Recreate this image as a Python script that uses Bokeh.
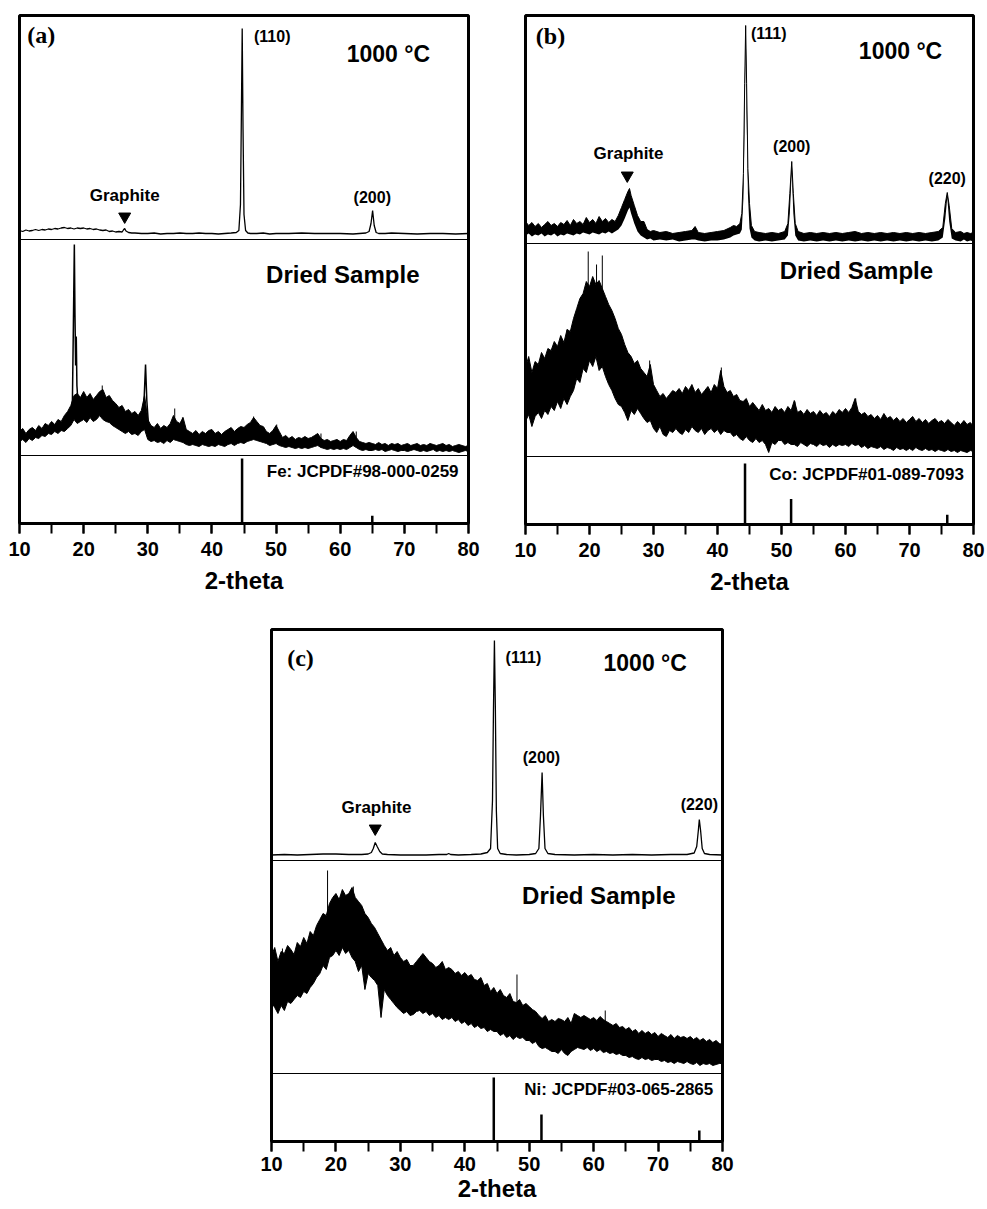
from bokeh.plotting import figure
from bokeh.models import Range1d, Span, Label, SingleIntervalTicker, Spacer
from bokeh.layouts import row, column
from bokeh.embed import file_html
from bokeh.resources import INLINE

# ---------------- DATA (intensities in a.u.) ----------------
# sampling grid of the dried-sample scans (2-theta, degrees)
DRY_X = [10 + 0.5 * i for i in range(141)]

# ---- Panel (a): Fe ----
A_TOP = [(10, 9), (10.5, 8), (11, 9.5), (11.5, 8.5), (12, 9), (12.5, 10), (13, 9), (13.5, 10),
         (14, 9.5), (14.5, 10.5), (15, 10), (15.5, 11), (16, 10.5), (16.5, 11.5), (17, 12),
         (17.5, 11), (18, 11.5), (18.5, 10.5), (19, 11.5), (19.5, 11), (20, 11.5), (20.5, 10.5),
         (21, 11), (21.5, 10), (22, 10.5), (22.5, 9.5), (23, 9), (23.5, 9.5), (24, 8), (24.5, 8.5),
         (25, 7.5), (25.5, 8), (26, 7.5), (26.2, 9.5), (26.4, 11), (26.6, 8.5), (27, 7), (27.5, 6.5),
         (28, 6.5), (29, 6), (30, 6), (31, 6.5), (32, 5.5), (33, 6), (34, 6), (35, 6.5), (36, 6),
         (37, 6), (38, 6.5), (39, 6), (40, 6), (41, 5.5), (42, 6), (43, 6.5), (43.8, 7), (44.2, 9),
         (44.45, 35), (44.6, 130), (44.72, 211), (44.85, 110), (45.0, 25), (45.25, 9), (45.6, 6.5),
         (46, 6), (47, 6), (48, 6.5), (49, 5.5), (50, 6), (52, 6), (54, 6.5), (56, 6), (58, 6),
         (60, 6), (62, 5.5), (63, 6), (64, 6.5), (64.5, 8), (64.8, 16), (65.05, 29), (65.3, 14),
         (65.6, 7), (66, 6), (67, 6), (68, 6.5), (70, 6), (72, 5.5), (74, 6), (76, 6), (78, 5.5),
         (80, 6)]
A_DRY_HI = [24, 27, 22, 26, 28, 25, 30, 27, 32, 30,
            34, 31, 36, 34, 40, 44, 50, 60, 62, 58,
            64, 58, 62, 56, 60, 64, 66, 58, 60, 55,
            52, 48, 50, 44, 46, 42, 44, 40, 45, 60,
            36, 30, 28, 32, 27, 30, 28, 32, 40, 34,
            32, 38, 26, 24, 22, 25, 21, 24, 22, 25,
            26, 22, 24, 21, 24, 26, 28, 24, 27, 29,
            28, 31, 33, 38, 34, 30, 29, 24, 22, 25,
            30, 24, 18, 20, 17, 19, 16, 18, 17, 19,
            17, 18, 20, 22, 17, 15, 16, 14, 15, 16,
            14, 16, 15, 20, 24, 18, 14, 13, 12, 13,
            12, 11, 13, 11, 12, 10, 12, 11, 12, 10,
            11, 12, 10, 11, 12, 10, 11, 10, 12, 11,
            10, 11, 12, 10, 11, 9, 10, 11, 10, 9,
            10]
A_DRY_LO = [14, 16, 13, 17, 15, 18, 17, 20, 19, 22,
            21, 24, 22, 25, 24, 27, 30, 36, 32, 34,
            36, 33, 38, 34, 36, 40, 36, 34, 33, 30,
            28, 26, 24, 22, 24, 21, 22, 20, 24, 26,
            16, 14, 15, 13, 14, 12, 15, 13, 16, 15,
            14, 13, 11, 10, 11, 10, 9, 11, 10, 9,
            10, 9, 11, 10, 9, 11, 12, 10, 12, 13,
            12, 14, 15, 16, 15, 14, 13, 12, 10, 11,
            12, 10, 9, 8, 9, 8, 7, 8, 7, 8,
            7, 8, 9, 10, 8, 7, 6, 7, 6, 7,
            6, 7, 6, 8, 10, 8, 6, 5, 6, 5,
            5, 6, 5, 6, 4, 5, 6, 5, 4, 5,
            5, 4, 5, 6, 5, 4, 5, 4, 5, 6,
            4, 5, 4, 5, 4, 5, 4, 3, 4, 5,
            4]
A_DRY_PEAK1 = [(18.0, 40), (18.25, 55), (18.4, 130), (18.55, 211), (18.65, 140), (18.75, 90),
               (18.85, 119), (18.95, 70), (19.1, 55), (19.3, 45)]
A_DRY_PEAK2 = [(29.2, 40), (29.45, 60), (29.65, 91), (29.85, 55), (30.1, 32)]
A_DRY_SPIKES = [(22.9, 40, 70), (34.2, 18, 47), (35.4, 15, 38), (46.5, 20, 39), (48.1, 14, 28),
                (50.1, 15, 31), (57.0, 8, 22), (62.5, 8, 24)]
A_REF = [(44.7, 100), (65.0, 12)]
A_REF_LABEL = "Fe: JCPDF#98-000-0259"
A_HKL = ["(110)", "(200)"]

# ---- Panel (b): Co ----
B_TOP = [(10, 8, 22), (10.5, 10, 18), (11, 7, 21), (11.5, 9, 17), (12, 8, 20), (12.5, 10, 16),
         (13, 7, 19), (13.5, 9, 22), (14, 8, 18), (14.5, 10, 20), (15, 7, 17), (15.5, 9, 21),
         (16, 8, 19), (16.5, 10, 23), (17, 9, 18), (17.5, 8, 24), (18, 10, 20), (18.5, 9, 22),
         (19, 11, 19), (19.5, 10, 26), (20, 9, 21), (20.5, 11, 24), (21, 10, 20), (21.5, 9, 27),
         (22, 11, 22), (22.5, 10, 25), (23, 12, 21), (23.5, 10, 24), (24, 12, 22), (24.5, 14, 28),
         (25, 18, 36), (25.5, 25, 44), (26, 33, 52), (26.25, 36, 55), (26.5, 30, 48), (27, 20, 38),
         (27.5, 12, 28), (28, 8, 22), (28.5, 6, 22), (29, 4, 14), (29.5, 5, 12), (30, 3, 13),
         (31, 4, 11), (32, 3, 12), (33, 4, 10), (34, 2, 11), (35, 3, 12), (36, 4, 13), (36.5, 4, 17),
         (37, 3, 11), (38, 2, 10), (39, 3, 11), (40, 3, 12), (41, 4, 13), (42, 6, 16), (42.5, 8, 18),
         (43, 9, 17), (43.5, 10, 20), (43.8, 14, 30), (44.05, 45, 70), (44.25, 130, 160),
         (44.4, 205, 218), (44.55, 130, 160), (44.75, 50, 75), (45.0, 15, 40), (45.3, 6, 18),
         (45.8, 3, 12), (46.5, 2, 11), (47.5, 3, 10), (48.5, 2, 11), (49.5, 3, 10), (50.5, 4, 12),
         (51.0, 8, 20), (51.3, 30, 50), (51.6, 72, 82), (51.85, 30, 50), (52.15, 8, 20),
         (52.6, 3, 12), (53.5, 2, 10), (54.5, 3, 11), (55.5, 2, 10), (56.5, 3, 11), (57.5, 2, 10),
         (58.5, 3, 11), (59.5, 2, 10), (60.5, 3, 11), (61.5, 2, 12), (62.5, 3, 10), (63.5, 2, 11),
         (64.5, 3, 10), (65.5, 2, 11), (66.5, 3, 10), (67.5, 2, 11), (68.5, 3, 10), (69.5, 2, 11),
         (70.5, 3, 10), (71.5, 2, 11), (72.5, 3, 10), (73.5, 2, 11), (74.5, 3, 12), (75.2, 6, 16),
         (75.6, 25, 40), (75.9, 46, 51), (76.2, 22, 38), (76.6, 5, 15), (77.2, 3, 11), (78, 2, 12),
         (78.5, 4, 10), (79, 2, 11), (79.5, 3, 10), (80, 2, 11)]
B_DRY_HI = [89, 100, 84, 95, 92, 104, 98, 108, 106, 115,
            110, 121, 114, 127, 125, 138, 148, 158, 163, 175,
            170, 180, 172, 176, 168, 160, 152, 146, 138, 128,
            122, 112, 104, 100, 93, 96, 88, 84, 80, 92,
            72, 66, 60, 63, 58, 62, 66, 64, 68, 63,
            70, 66, 72, 64, 68, 62, 66, 70, 64, 72,
            68, 86, 70, 64, 66, 60, 62, 56, 55, 58,
            50, 54, 50, 46, 52, 46, 48, 44, 50, 46,
            48, 44, 50, 46, 56, 44, 46, 42, 47, 43,
            45, 41, 46, 42, 44, 40, 45, 42, 47, 44,
            48, 44, 49, 58, 45, 42, 44, 40, 42, 38,
            41, 37, 43, 38, 40, 36, 39, 35, 38, 34,
            37, 40, 35, 38, 34, 37, 33, 36, 38, 34,
            36, 33, 37, 34, 31, 35, 32, 36, 32, 34,
            30]
B_DRY_LO = [35, 42, 30, 40, 44, 38, 46, 42, 50, 46,
            55, 48, 58, 52, 60, 66, 78, 74, 88, 84,
            96, 90, 100, 86, 90, 80, 72, 66, 58, 52,
            50, 44, 36, 46, 42, 48, 43, 38, 34, 36,
            28, 24, 30, 22, 20, 26, 24, 28, 24, 22,
            27, 24, 30, 26, 24, 28, 22, 26, 28, 24,
            27, 22, 26, 24, 24, 20, 22, 18, 16, 20,
            16, 14, 18, 14, 16, 12, 4, 14, 12, 16,
            16, 12, 14, 12, 12, 10, 14, 12, 10, 13,
            12, 10, 13, 11, 12, 9, 12, 10, 12, 11,
            12, 10, 13, 11, 12, 9, 11, 8, 10, 9,
            8, 10, 7, 9, 8, 6, 9, 7, 8, 6,
            8, 6, 9, 7, 6, 8, 6, 7, 5, 7,
            6, 5, 7, 5, 6, 4, 6, 5, 4, 6,
            5]
B_DRY_SPIKES = [(19.8, 120, 205), (21.1, 110, 192), (22.0, 110, 201), (16.5, 70, 127),
                (29.4, 50, 96), (40.6, 40, 89), (61.6, 20, 58), (52.1, 20, 55)]
B_REF = [(44.3, 100), (51.5, 42), (75.9, 16)]
B_REF_LABEL = "Co: JCPDF#01-089-7093"
B_HKL = ["(111)", "(200)", "(220)"]

# ---- Panel (c): Ni ----
C_TOP = [(10, 5.5), (12, 6), (14, 5.5), (16, 6), (18, 6.5), (20, 6.5), (22, 6), (24, 6), (25, 6.5),
         (25.5, 8), (25.8, 12), (26.1, 18), (26.4, 14), (26.8, 9), (27.2, 6.5), (28, 6), (30, 5.5),
         (32, 5.5), (34, 5.5), (36, 6), (37.2, 6), (37.5, 7), (37.8, 6), (39, 5.5), (41, 6),
         (42.5, 6.5), (43.5, 8), (44.0, 12), (44.3, 60), (44.45, 150), (44.6, 220), (44.75, 150),
         (44.9, 50), (45.1, 12), (45.5, 7), (46.5, 6), (48, 5.5), (50, 6), (51.0, 7), (51.5, 12),
         (51.75, 45), (52.0, 88), (52.2, 45), (52.45, 12), (52.9, 7), (54, 6), (57, 5.5), (60, 6),
         (63, 5.5), (66, 6), (69, 5.5), (72, 6), (74.5, 6), (75.6, 7.5), (76.0, 14), (76.25, 30),
         (76.4, 41), (76.6, 30), (76.85, 12), (77.2, 7), (78, 6), (80, 5.5)]
C_DRY_HI = [118, 126, 112, 122, 120, 128, 124, 119, 131, 127,
            136, 130, 142, 138, 148, 154, 160, 158, 170, 176,
            180, 174, 184, 178, 180, 186, 176, 172, 168, 160,
            156, 150, 146, 140, 134, 128, 123, 126, 118, 122,
            116, 112, 114, 108, 108, 112, 116, 120, 116, 112,
            110, 106, 108, 112, 104, 106, 104, 100, 102, 98,
            101, 97, 99, 94, 93, 96, 88, 90, 82, 86,
            80, 84, 78, 76, 80, 72, 71, 74, 68, 70,
            67, 64, 62, 58, 55, 58, 52, 54, 52, 55,
            54, 52, 56, 50, 60, 58, 56, 58, 56, 54,
            56, 53, 57, 54, 52, 50, 48, 50, 46, 47,
            44, 46, 42, 44, 40, 43, 40, 42, 39, 41,
            37, 40, 38, 36, 39, 35, 38, 36, 37, 35,
            37, 34, 36, 33, 35, 32, 34, 31, 33, 30,
            29]
C_DRY_LO = [71, 66, 60, 68, 63, 72, 70, 74, 78, 76,
            82, 80, 86, 90, 96, 100, 108, 104, 116, 118,
            123, 118, 126, 120, 123, 116, 112, 102, 108, 84,
            100, 96, 93, 88, 56, 84, 78, 74, 70, 66,
            63, 60, 62, 58, 59, 62, 63, 60, 62, 58,
            60, 56, 58, 54, 56, 54, 56, 52, 54, 50,
            52, 48, 50, 46, 48, 45, 46, 42, 44, 42,
            42, 38, 40, 36, 38, 34, 37, 35, 36, 33,
            33, 30, 32, 27, 25, 26, 24, 22, 22, 20,
            24, 20, 18, 22, 24, 26, 25, 24, 26, 23,
            25, 22, 24, 21, 22, 20, 21, 19, 20, 18,
            18, 16, 17, 15, 14, 16, 14, 15, 13, 14,
            14, 12, 13, 11, 12, 10, 12, 11, 10, 12,
            10, 9, 11, 8, 10, 9, 10, 8, 9, 10,
            10]
C_DRY_SPIKES = [(18.7, 140, 203), (22.7, 140, 187), (11.7, 80, 125), (48.1, 40, 99),
                (61.8, 25, 63)]
C_REF = [(44.5, 100), (51.9, 42), (76.4, 17)]
C_REF_LABEL = "Ni: JCPDF#03-065-2865"
C_HKL = ["(111)", "(200)", "(220)"]

GRAPHITE_POS = {"a": 26.4, "b": 26.1, "c": 26.1}

SANS = "Liberation Sans"
SERIF = "Liberation Serif"


def base_figure(fw, fh, left, right, top, bottom, tick_standoff=8, label_standoff=8):
    p = figure(frame_width=fw, frame_height=fh, x_range=Range1d(10, 80), y_range=Range1d(0, fh),
               output_backend="svg", toolbar_location=None, y_axis_location=None,
               min_border_left=left, min_border_right=right, min_border_top=top,
               min_border_bottom=bottom, background_fill_color="white",
               border_fill_color="white")
    p.grid.visible = False
    p.outline_line_color = "black"
    p.outline_line_width = 3
    p.outline_line_alpha = 1
    ax = p.xaxis[0]
    ax.ticker = SingleIntervalTicker(interval=10, num_minor_ticks=2)
    ax.axis_line_color = None
    ax.major_tick_in = 0
    ax.major_tick_out = 10
    ax.minor_tick_in = 0
    ax.minor_tick_out = 10
    ax.major_tick_line_width = 2
    ax.minor_tick_line_width = 2
    ax.major_tick_line_color = "black"
    ax.minor_tick_line_color = "black"
    ax.major_label_text_font = SANS
    ax.major_label_text_font_style = "bold"
    ax.major_label_text_font_size = "20px"
    ax.major_label_text_color = "black"
    ax.major_label_standoff = tick_standoff
    ax.axis_label = "2-theta"
    ax.axis_label_text_font = SANS
    ax.axis_label_text_font_style = "bold"
    ax.axis_label_text_font_size = "24px"
    ax.axis_label_text_color = "black"
    ax.axis_label_standoff = label_standoff
    return p


def label(p, text, x, y, size, font=SANS):
    p.add_layout(Label(x=x, y=y, text=text, text_font=font, text_font_size=size,
                       text_font_style="bold", text_align="center", text_baseline="middle",
                       text_color="black"))


def draw_panel(p, sep1, sep2, ref_h, top_line, top_band, dry_hi, dry_lo, peaks, spikes, ref):
    for s in (sep1, sep2):
        p.add_layout(Span(location=s, dimension="width", line_color="black", line_width=1.2))
    # 1000 C pattern
    if top_line is not None:
        xs = [t[0] for t in top_line]
        ys = [sep1 + t[1] for t in top_line]
        p.line(xs, ys, line_color="black", line_width=1.3)
    if top_band is not None:
        xs = [t[0] for t in top_band]
        p.varea(x=xs, y1=[sep1 + t[1] for t in top_band], y2=[sep1 + t[2] for t in top_band],
                fill_color="black")
        p.line(xs, [sep1 + t[2] for t in top_band], line_color="black", line_width=1)
    # dried sample
    n = min(len(dry_hi), len(dry_lo), len(DRY_X))
    p.varea(x=DRY_X[:n], y1=[sep2 + v for v in dry_lo[:n]], y2=[sep2 + v for v in dry_hi[:n]],
            fill_color="black")
    p.line(DRY_X[:n], [sep2 + v for v in dry_hi[:n]], line_color="black", line_width=1)
    p.line(DRY_X[:n], [sep2 + v for v in dry_lo[:n]], line_color="black", line_width=1)
    for pk in peaks:
        p.line([t[0] for t in pk], [sep2 + t[1] for t in pk], line_color="black", line_width=1.5)
    if spikes:
        p.segment(x0=[s[0] for s in spikes], y0=[sep2 + s[1] for s in spikes],
                  x1=[s[0] for s in spikes], y1=[sep2 + s[2] for s in spikes],
                  line_color="black", line_width=1)
    # reference sticks
    p.segment(x0=[r[0] for r in ref], y0=[0] * len(ref), x1=[r[0] for r in ref],
              y1=[r[1] / 100.0 * ref_h for r in ref], line_color="black", line_width=2.5)


# ---------------- Panel (a) ----------------
pa = base_figure(449, 508, 19, 20, 15, 85)
draw_panel(pa, 284, 68, 65, A_TOP, None, A_DRY_HI, A_DRY_LO, [A_DRY_PEAK1, A_DRY_PEAK2],
           A_DRY_SPIKES, A_REF)
label(pa, "(a)", 13.4, 489, "24px", SERIF)
label(pa, A_HKL[0], 49.4, 487, "16px")
label(pa, "1000 °C", 67.5, 470, "23px")
label(pa, "Graphite", GRAPHITE_POS["a"], 328, "17px")
pa.scatter([GRAPHITE_POS["a"]], [307], marker="inverted_triangle", size=12, fill_color="black",
           line_color="black")
label(pa, A_HKL[1], 65.0, 326, "16px")
label(pa, "Dried Sample", 60.4, 249, "24px")
label(pa, A_REF_LABEL, 63.5, 52, "17px")

# ---------------- Panel (b) ----------------
pb = base_figure(448, 509, 37, 14, 14, 85)
draw_panel(pb, 281, 68, 61, None, B_TOP, B_DRY_HI, B_DRY_LO, [], B_DRY_SPIKES, B_REF)
label(pb, "(b)", 13.9, 489, "24px", SERIF)
label(pb, B_HKL[0], 48.0, 491, "16px")
label(pb, "1000 °C", 68.6, 474, "23px")
label(pb, "Graphite", GRAPHITE_POS["b"], 371, "17px")
pb.scatter([25.9], [349], marker="inverted_triangle", size=12, fill_color="black",
           line_color="black")
label(pb, B_HKL[1], 51.6, 378, "16px")
label(pb, B_HKL[2], 75.9, 346, "16px")
label(pb, "Dried Sample", 61.7, 254, "24px")
label(pb, B_REF_LABEL, 63.3, 50, "17px")

# ---------------- Panel (c) ----------------
pc = base_figure(451, 512, 71, 30, 21, 64, tick_standoff=5, label_standoff=1)
draw_panel(pc, 281, 68, 64, C_TOP, None, C_DRY_HI, C_DRY_LO, [], C_DRY_SPIKES, C_REF)
label(pc, "(c)", 14.5, 484, "24px", SERIF)
label(pc, C_HKL[0], 49.1, 484, "16px")
label(pc, "1000 °C", 68.0, 479, "23px")
label(pc, C_HKL[1], 51.9, 384, "16px")
label(pc, "Graphite", 26.3, 334, "17px")
pc.scatter([GRAPHITE_POS["c"]], [313], marker="inverted_triangle", size=12, fill_color="black",
           line_color="black")
label(pc, C_HKL[2], 76.4, 337, "16px")
label(pc, "Dried Sample", 60.8, 246, "24px")
label(pc, C_REF_LABEL, 63.9, 52, "17px")

layout = column(row(pa, pb), row(Spacer(width=200, height=10), pc))

open("out.html", "w").write(file_html(layout, INLINE))
